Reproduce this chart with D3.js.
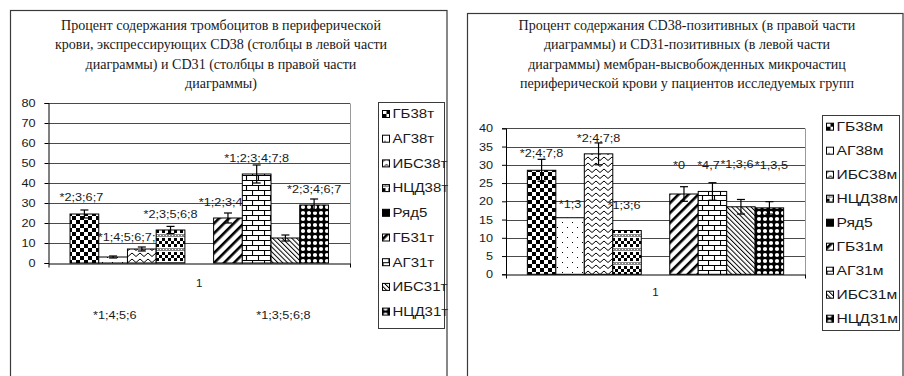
<!DOCTYPE html>
<html>
<head>
<meta charset="utf-8">
<script src="https://cdn.jsdelivr.net/npm/d3@7"></script>
<style>
  body { margin: 0; background: #fff; }
  svg { display: block; }
</style>
</head>
<body>
<svg id="chart" width="904" height="376"></svg>
<script>
// ---- data ----
const groupCategories = ["1"];

const plateletTitle = [
  "Процент содержания тромбоцитов в периферической",
  "крови, экспрессирующих CD38 (столбцы в левой части",
  "диаграммы) и CD31 (столбцы в правой части",
  "диаграммы)"
];
const plateletSeries = ["ГБ38т", "АГ38т", "ИБС38т", "НЦД38т", "Ряд5", "ГБ31т", "АГ31т", "ИБС31т", "НЦД31т"];
const plateletValues = [24.5, 3, 7, 16.5, 0, 22.5, 44.5, 12.5, 29];
const plateletErrors = [2, 0.5, 1, 1.8, 0, 2.5, 4.5, 1.5, 3];
const plateletLabels = ["*2;3;6;7", "*1;4;5;6;7;8", "*1;4;5;6", "*2;3;5;6;8", "", "*1;2;3;4;7", "*1;2;3;4;7;8", "*1;3;5;6;8", "*2;3;4;6;7"];
const plateletTicks = [0, 10, 20, 30, 40, 50, 60, 70, 80];

const particleTitle = [
  "Процент содержания CD38-позитивных (в правой части",
  "диаграммы) и CD31-позитивных (в левой части",
  "диаграммы) мембран-высвобожденных микрочастиц",
  "периферической крови у пациентов исследуемых групп"
];
const particleSeries = ["ГБ38м", "АГ38м", "ИБС38м", "НЦД38м", "Ряд5", "ГБ31м", "АГ31м", "ИБС31м", "НЦД31м"];
const particleValues = [28.5, 15.5, 33, 12, 0, 22, 22.7, 18.5, 18.2];
const particleErrors = [3, 0, 3, 0, 0, 2, 2.4, 2, 1.7];
const particleLabels = ["*2;4;7;8", "*1;3", "*2;4;7;8", "*1;3;6", "", "*0", "*4,7", "*1;3;6", "*1,3,5"];
const particleTicks = [0, 5, 10, 15, 20, 25, 30, 35, 40];

// ---- layout ----
const SANS = "'Liberation Sans', Arial, sans-serif";
const SERIF = "'Liberation Serif', 'Times New Roman', serif";
const INK = "#1a1a1a";

const panels = [
  {
    title: plateletTitle, series: plateletSeries, values: plateletValues,
    errors: plateletErrors, labels: plateletLabels, ticks: plateletTicks,
    frame: { x: 10.5, y: 10.5, w: 436.5 },
    titleX: 221, titleY: 30, titleStep: 19.3,
    plot: { left: 48.5, right: 350, top: 103, bottom: 263 },
    legend: { x: 378.5, y: 102.5, w: 66, h: 226, first: 114, step: 24.7, font: 12 },
    labelShift: [[-3, -5], [17, -11], [-27, 76], [0, -4], [0, 0], [-2, -3], [0, 1], [-2, 88], [0, -2]],
    catDy: 27
  },
  {
    title: particleTitle, series: particleSeries, values: particleValues,
    errors: particleErrors, labels: particleLabels, ticks: particleTicks,
    frame: { x: 467.5, y: 13.5, w: 435.5 },
    titleX: 687, titleY: 30, titleStep: 19.4,
    plot: { left: 506, right: 805, top: 128.3, bottom: 274.3 },
    legend: { x: 822.5, y: 115.5, w: 77, h: 215, first: 126.7, step: 24, font: 12.5 },
    labelShift: [[0, 2], [0, -6], [0, 3], [-3, -18], [0, 0], [-5, -14], [-4, -10], [-4, -27], [2, -29]],
    catDy: 25
  }
];

const svg = d3.select("#chart");
const defs = svg.append("defs");

// ---- hatch fills, one per series position ----
function pattern(id, w, h, build, transform) {
  const p = defs.append("pattern").attr("id", id)
    .attr("patternUnits", "userSpaceOnUse").attr("width", w).attr("height", h);
  if (transform) p.attr("patternTransform", transform);
  p.append("rect").attr("width", w).attr("height", h).attr("fill", "#fff");
  build(p);
}
pattern("p-checker", 8, 8, p => {
  p.append("rect").attr("width", 4).attr("height", 4).attr("fill", "#000");
  p.append("rect").attr("x", 4).attr("y", 4).attr("width", 4).attr("height", 4).attr("fill", "#000");
});
pattern("p-dots", 10, 10, p => {
  p.append("rect").attr("x", 2).attr("y", 2).attr("width", 1).attr("height", 1).attr("fill", "#000");
  p.append("rect").attr("x", 7).attr("y", 7).attr("width", 1).attr("height", 1).attr("fill", "#000");
});
pattern("p-zigzag", 8, 6, p => {
  p.append("path").attr("d", "M0,4.5 L4,1 L8,4.5").attr("fill", "none")
    .attr("stroke", "#000").attr("stroke-width", 1);
});
pattern("p-plaid", 6, 14, p => {
  for (let r = 0; r < 3; r++) {
    p.append("rect").attr("x", r % 2 ? 3 : 0).attr("y", r * 3).attr("width", 3).attr("height", 3).attr("fill", "#000");
  }
  p.append("rect").attr("x", 0).attr("y", 10).attr("width", 6).attr("height", 3).attr("fill", "#8a8a8a");
  p.append("rect").attr("x", 1).attr("y", 11).attr("width", 1).attr("height", 1).attr("fill", "#fff");
  p.append("rect").attr("x", 4).attr("y", 11).attr("width", 1).attr("height", 1).attr("fill", "#fff");
});
pattern("p-solid", 4, 4, p => {
  p.append("rect").attr("width", 4).attr("height", 4).attr("fill", "#000");
});
pattern("p-wide", 7, 7, p => {
  p.append("rect").attr("x", 0).attr("y", 0).attr("width", 2.6).attr("height", 7).attr("fill", "#000");
}, "rotate(45)");
pattern("p-brick", 12, 10, p => {
  p.append("path")
    .attr("d", "M0,0.5 H12 M0,5.5 H12 M0.5,0.5 V5.5 M6.5,5.5 V10")
    .attr("stroke", "#000").attr("stroke-width", 1.1).attr("fill", "none");
});
pattern("p-thin", 3.4, 3.4, p => {
  p.append("rect").attr("x", 0).attr("y", 0).attr("width", 1).attr("height", 3.4).attr("fill", "#000");
}, "rotate(-45)");
pattern("p-circles", 6, 6, p => {
  p.append("rect").attr("width", 6).attr("height", 6).attr("fill", "#000");
  p.append("circle").attr("cx", 3).attr("cy", 3).attr("r", 2.1).attr("fill", "#fff");
});
const fills = ["p-checker", "p-dots", "p-zigzag", "p-plaid", "p-solid", "p-wide", "p-brick", "p-thin", "p-circles"];

// Widen text horizontally by factor k (keeps its anchor)
function stretch(sel, k) {
  sel.each(function () {
    const w = this.getComputedTextLength();
    if (w > 0) {
      this.setAttribute("textLength", (w * k).toFixed(2));
      this.setAttribute("lengthAdjust", "spacingAndGlyphs");
    }
  });
}

panels.forEach(pn => {
  const g = svg.append("g");
  const P = pn.plot;

  // outer frame (runs off the bottom edge)
  g.append("rect")
    .attr("x", pn.frame.x).attr("y", pn.frame.y)
    .attr("width", pn.frame.w).attr("height", 420)
    .attr("fill", "#fff").attr("stroke", "#3a3a3a").attr("stroke-width", 1.2);

  // title
  const t = g.append("g").selectAll("text").data(pn.title).join("text")
    .attr("x", pn.titleX)
    .attr("y", (d, i) => pn.titleY + i * pn.titleStep)
    .attr("text-anchor", "middle")
    .attr("font-family", SERIF).attr("font-size", 14.5)
    .attr("fill", INK)
    .text(d => d);
  stretch(t, 0.97);

  // scales
  const yMax = d3.max(pn.ticks);
  const y = d3.scaleLinear().domain([0, yMax]).range([P.bottom, P.top]);
  const xGroup = d3.scaleBand().domain(groupCategories).range([P.left, P.right]).padding(0);
  const xSeries = d3.scaleBand().domain(pn.series)
    .range([0, xGroup.bandwidth()]).paddingInner(0).paddingOuter(0.75);

  // gridlines
  g.append("g").selectAll("line").data(pn.ticks.filter(d => d > 0)).join("line")
    .attr("x1", P.left).attr("x2", P.right)
    .attr("y1", d => Math.round(y(d)) + 0.5).attr("y2", d => Math.round(y(d)) + 0.5)
    .attr("stroke", "#4a4a4a").attr("stroke-width", 1);
  // right border of the plot area
  g.append("line")
    .attr("x1", P.right + 0.5).attr("x2", P.right + 0.5)
    .attr("y1", Math.round(y(yMax)) + 0.5).attr("y2", Math.round(y(0)) + 0.5)
    .attr("stroke", "#9a9a9a");

  // bars, error bars and value labels, series by series
  const bx = (s) => xGroup("1") + xSeries(s);
  const bw = xSeries.bandwidth();
  pn.series.forEach((s, i) => {
    const v = pn.values[i], e = pn.errors[i];
    if (v > 0) {
      g.append("rect")
        .attr("x", bx(s)).attr("y", y(v))
        .attr("width", bw).attr("height", y(0) - y(v))
        .attr("fill", `url(#${fills[i]})`)
        .attr("stroke", "#000").attr("stroke-width", 1);
    }
    if (e > 0) {
      const cx = bx(s) + bw / 2;
      const eb = g.append("g").attr("stroke", "#000").attr("stroke-width", 1.2);
      eb.append("line").attr("x1", cx).attr("x2", cx).attr("y1", y(v - e)).attr("y2", y(v + e));
      eb.append("line").attr("x1", cx - 4).attr("x2", cx + 4).attr("y1", y(v + e)).attr("y2", y(v + e));
      eb.append("line").attr("x1", cx - 4).attr("x2", cx + 4).attr("y1", y(v - e)).attr("y2", y(v - e));
    }
    if (pn.labels[i]) {
      const sh = pn.labelShift[i];
      const lab = g.append("text")
        .attr("x", bx(s) + bw / 2 + sh[0])
        .attr("y", y(v + e) - 4 + sh[1])
        .attr("text-anchor", "middle")
        .attr("font-family", SANS).attr("font-size", 11)
        .attr("fill", INK)
        .text(pn.labels[i]);
      stretch(lab, 1.15);
    }
  });

  // value axis
  const yAxis = d3.axisLeft(y).tickValues(pn.ticks).tickSize(4).tickPadding(9);
  const ya = g.append("g").attr("transform", `translate(${P.left},0)`).call(yAxis);
  ya.select(".domain").attr("stroke", "#000");
  ya.selectAll(".tick line").attr("stroke", "#000");
  ya.selectAll("text").attr("font-family", SANS).attr("font-size", 11.5).attr("fill", INK);
  stretch(ya.selectAll("text"), 1.1);

  // category axis
  const xAxis = d3.axisBottom(xGroup).tickSize(0).tickPadding(pn.catDy - 12);
  const xa = g.append("g").attr("transform", `translate(0,${Math.round(y(0)) + 0.5})`).call(xAxis);
  xa.select(".domain").attr("stroke", "#000");
  xa.selectAll("text").attr("font-family", SANS).attr("font-size", 11.5).attr("fill", INK);
  // end ticks on the category axis
  g.selectAll(null).data([P.left, P.right]).join("line")
    .attr("x1", d => d + 0.5).attr("x2", d => d + 0.5)
    .attr("y1", Math.round(y(0)) + 0.5).attr("y2", Math.round(y(0)) + 4.5)
    .attr("stroke", "#000");

  // legend
  const L = pn.legend;
  g.append("rect").attr("x", L.x).attr("y", L.y).attr("width", L.w).attr("height", L.h)
    .attr("fill", "#fff").attr("stroke", "#3a3a3a").attr("stroke-width", 1);
  const items = g.append("g").selectAll("g").data(pn.series).join("g")
    .attr("transform", (d, i) => `translate(${L.x + 4},${L.first + i * L.step})`);
  items.append("rect")
    .attr("x", 0).attr("y", -3.5).attr("width", 7).attr("height", 7)
    .attr("fill", (d, i) => `url(#${fills[i]})`)
    .attr("stroke", "#000").attr("stroke-width", 1);
  const lt = items.append("text")
    .attr("x", 10).attr("y", 4.3)
    .attr("font-family", SANS).attr("font-size", L.font)
    .attr("fill", INK)
    .text(d => d);
  stretch(lt, 1.25);
});
</script>
</body>
</html>
